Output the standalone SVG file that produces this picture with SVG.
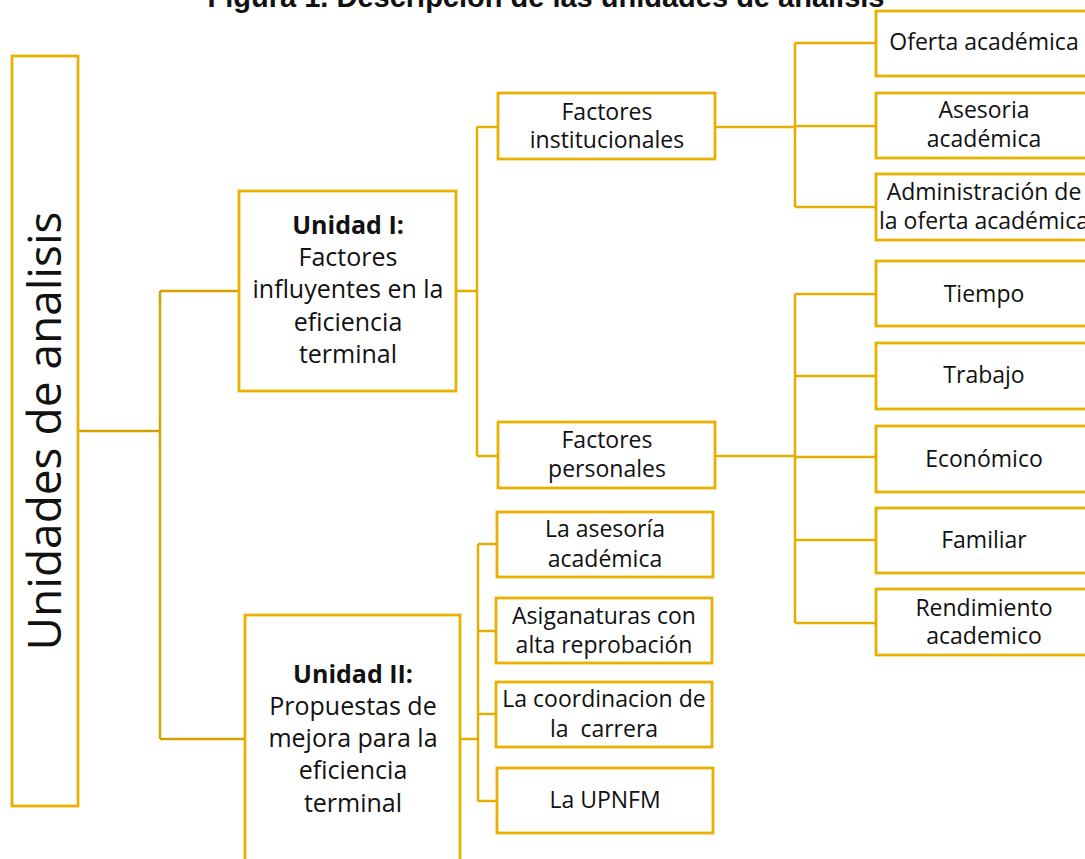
<svg xmlns="http://www.w3.org/2000/svg" width="1085" height="859" viewBox="0 0 1085 859">
<style>
.box{fill:#fff;stroke:#E8B000;stroke-width:2.8}
.ln{fill:none;stroke:#E3AE00;stroke-width:2.5}
.lnd{fill:none;stroke:#D2A200;stroke-width:2.5}
.t{font-family:"Open Sans","Noto Sans",sans-serif;fill:#111;text-anchor:middle}
.s{font-size:23px}
.m{font-size:25px}
.b{font-weight:bold}
.title{font-family:"Liberation Sans",Arial,sans-serif;font-weight:bold;font-size:29px;fill:#111;text-anchor:middle}
</style>
<rect width="1085" height="859" fill="#fff"/>
<text class="title" x="546" y="7">Figura 1. Descripción de las unidades de análisis</text>
<g id="connectors">
<path class="lnd" d="M78 431H160M160 291V739M160 291H239M160 739H245"/>
<path class="ln" d="M456 291H477M477 127V456M477 127H498M477 456H498"/>
<path class="ln" d="M715 127H795M795 43V207M795 43H876M795 126H876M795 207H876"/>
<path class="ln" d="M715 456H795M795 294V623M795 294H876M795 376H876M795 457H876M795 540H876M795 623H876"/>
<path class="ln" d="M460 739H478M478 544V801M478 544H497M478 631H496M478 714H496M478 801H497"/>
</g>
<g id="root"><rect class="box" x="12" y="56" width="66" height="750"/><text class="t" font-size="46" transform="translate(61,431) rotate(-90)">Unidades de analisis</text></g>
<g id="u1"><rect class="box" x="239" y="191" width="217" height="200"/>
<text class="t m b" x="348" y="234">Unidad I:</text>
<text class="t m" x="348" y="266">Factores</text>
<text class="t m" x="348" y="298">influyentes en la</text>
<text class="t m" x="348" y="331">eficiencia</text>
<text class="t m" x="348" y="363">terminal</text></g>
<g id="u2"><rect class="box" x="245" y="615" width="215" height="270"/>
<text class="t m b" x="353" y="683">Unidad II:</text>
<text class="t m" x="353" y="715">Propuestas de</text>
<text class="t m" x="353" y="747">mejora para la</text>
<text class="t m" x="353" y="779">eficiencia</text>
<text class="t m" x="353" y="812">terminal</text></g>
<g id="fi"><rect class="box" x="498" y="93" width="217" height="66"/>
<text class="t s" x="607" y="120">Factores</text><text class="t s" x="607" y="148">institucionales</text></g>
<g id="fp"><rect class="box" x="498" y="422" width="217" height="66"/>
<text class="t s" x="607" y="448">Factores</text><text class="t s" x="607" y="477">personales</text></g>
<g id="r1"><rect class="box" x="876" y="11" width="216" height="65"/><text class="t s" x="984" y="50">Oferta académica</text></g>
<g id="r2"><rect class="box" x="876" y="93" width="216" height="65"/><text class="t s" x="984" y="118">Asesoria</text><text class="t s" x="984" y="147">académica</text></g>
<g id="r3"><rect class="box" x="876" y="174" width="216" height="66"/><text class="t s" x="984" y="200">Administración de</text><text class="t s" x="984" y="229">la oferta académica</text></g>
<g id="r4"><rect class="box" x="876" y="261" width="216" height="65"/><text class="t s" x="984" y="302">Tiempo</text></g>
<g id="r5"><rect class="box" x="876" y="343" width="216" height="66"/><text class="t s" x="984" y="383">Trabajo</text></g>
<g id="r6"><rect class="box" x="876" y="426" width="216" height="66"/><text class="t s" x="984" y="467">Económico</text></g>
<g id="r7"><rect class="box" x="876" y="508" width="216" height="65"/><text class="t s" x="984" y="548">Familiar</text></g>
<g id="r8"><rect class="box" x="876" y="589" width="216" height="66"/><text class="t s" x="984" y="616">Rendimiento</text><text class="t s" x="984" y="644">academico</text></g>
<g id="b1"><rect class="box" x="497" y="512" width="216" height="65"/><text class="t s" x="605" y="537">La asesoría</text><text class="t s" x="605" y="567">académica</text></g>
<g id="b2"><rect class="box" x="496" y="598" width="216" height="65"/><text class="t s" x="604" y="624">Asiganaturas con</text><text class="t s" x="604" y="653">alta reprobación</text></g>
<g id="b3"><rect class="box" x="496" y="682" width="216" height="65"/><text class="t s" x="604" y="707">La coordinacion de</text><text class="t s" x="604" y="737" xml:space="preserve">la  carrera</text></g>
<g id="b4"><rect class="box" x="497" y="768" width="216" height="65"/><text class="t s" x="605" y="808">La UPNFM</text></g>
</svg>
